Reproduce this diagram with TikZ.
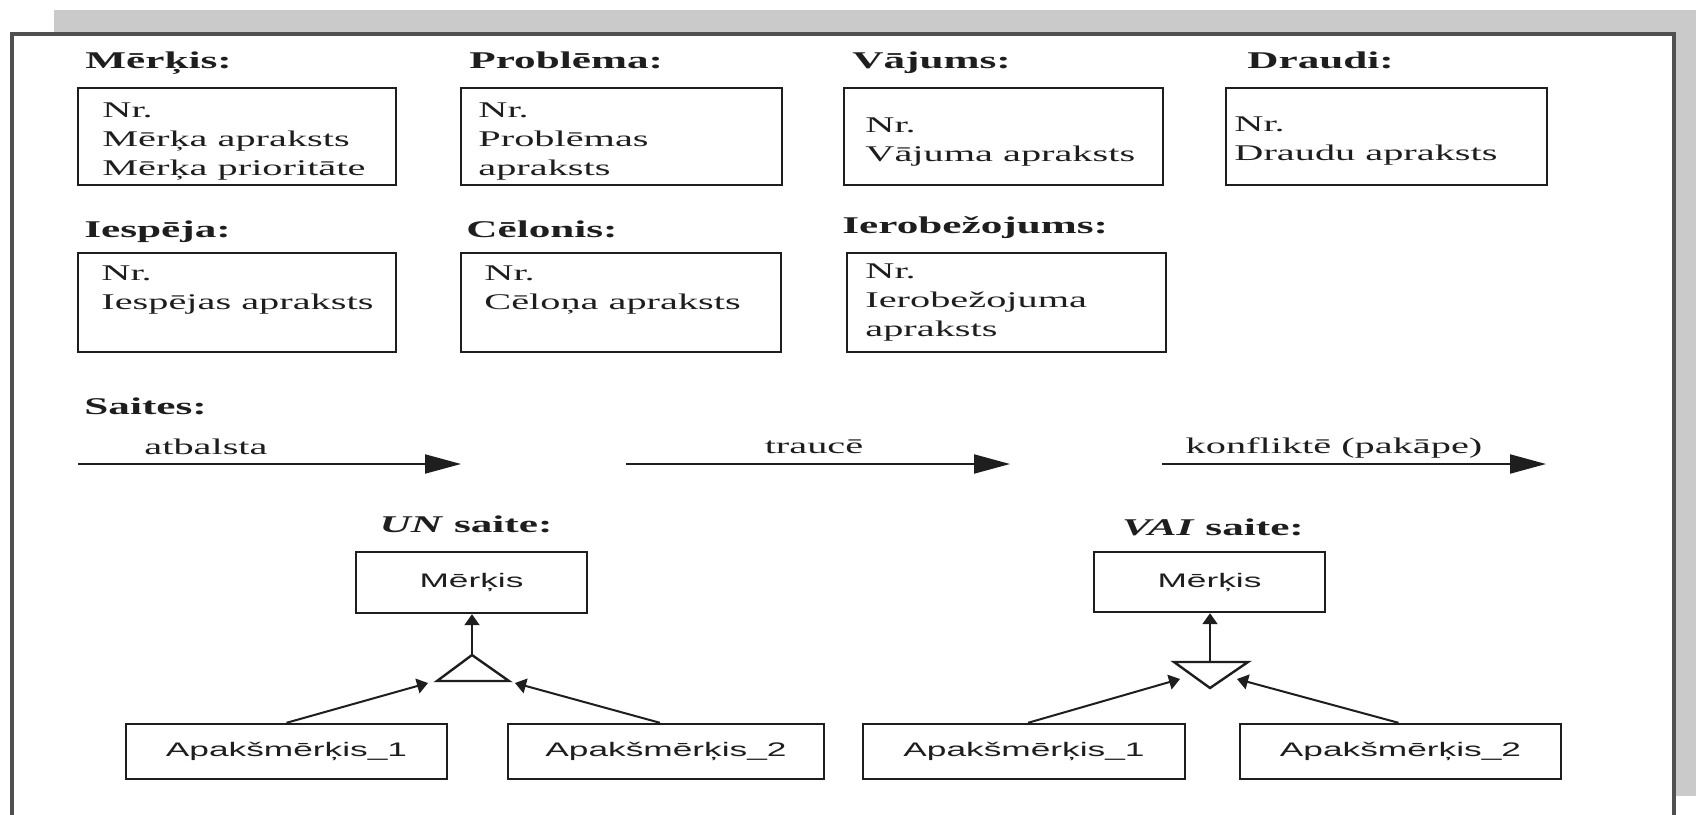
\documentclass[tikz,border=0pt]{standalone}
\usepackage{fontspec}
\setmainfont{Liberation Serif}[FakeStretch=1.8]
\newfontfamily\sansf{Liberation Sans}[FakeStretch=1.8]
\usetikzlibrary{arrows.meta,fit}
\definecolor{shadowgray}{HTML}{CACACA}
\definecolor{framegray}{HTML}{505050}
\definecolor{ink}{HTML}{1E1E1E}
\begin{document}
\begin{tikzpicture}[x=0.5pt,y=-0.5pt,
  box/.style={draw=ink, line width=1.2pt, inner sep=0pt},
  sbox/.style={draw=ink, line width=1.2pt, inner sep=0pt},
  stxt/.style={font=\sansf\fontsize{9.8}{12}\selectfont, text=ink, inner sep=0pt},
  head/.style={font=\fontsize{12}{14}\selectfont\bfseries, anchor=base west, inner sep=0pt, text=ink},
  ctitle/.style={font=\fontsize{12}{14}\selectfont\bfseries, anchor=base, inner sep=0pt, text=ink},
  body/.style={font=\fontsize{11.2}{14.5}\selectfont, anchor=north west, inner sep=0pt, align=left, text=ink},
  lbl/.style={font=\fontsize{11.2}{14.5}\selectfont, anchor=base, inner sep=0pt, text=ink},
  bigarr/.style={draw=ink, line width=1pt, -{Triangle[length=18pt,width=9.5pt]}},
  smallarr/.style={draw=ink, line width=1pt, -{Triangle[length=5.5pt,width=7.5pt]}},
  tri/.style={draw=ink, line width=1.2pt, line join=miter}
]
\useasboundingbox (0,0) rectangle (1696,814);
% frame with shadow
\fill[shadowgray] (54,10) rectangle (1696,796);
\draw[framegray, line width=2pt, fill=white] (12,34) rectangle (1674,850);

% headings
\node[head] (hMerkis) at (85,68) {Mērķis:};
\node[head] (hProblema) at (469,68) {Problēma:};
\node[head] (hVajums) at (852,68) {Vājums:};
\node[head] (hDraudi) at (1247,68) {Draudi:};
\node[head] (hIespeja) at (84,237) {Iespēja:};
\node[head] (hCelonis) at (466,237) {Cēlonis:};
\node[head] (hIerob) at (842,233) {Ierobežojums:};
\node[head] (hSaites) at (84,414) {Saites:};

% boxes
\node[box, fit={(78,88) (396,185)}] (bMerkis) {};
\node[box, fit={(461,88) (782,185)}] (bProblema) {};
\node[box, fit={(844,88) (1163,185)}] (bVajums) {};
\node[box, fit={(1226,88) (1547,185)}] (bDraudi) {};
\node[box, fit={(78,253) (396,352)}] (bIespeja) {};
\node[box, fit={(461,253) (781,352)}] (bCelonis) {};
\node[box, fit={(847,253) (1166,352)}] (bIerob) {};

% box texts
\node[body] (tMerkis) at (102,102) {Nr.\\Mērķa apraksts\\Mērķa prioritāte};
\node[body] (tProblema) at (478,102) {Nr.\\Problēmas\\apraksts};
\node[body] (tVajums) at (865,117) {Nr.\\Vājuma apraksts};
\node[body] (tDraudi) at (1234,116) {Nr.\\Draudu apraksts};
\node[body] (tIespeja) at (101,265) {Nr.\\Iespējas apraksts};
\node[body] (tCelonis) at (484,265) {Nr.\\Cēloņa apraksts};
\node[body] (tIerob) at (865,263) {Nr.\\Ierobežojuma\\apraksts};

% link types
\coordinate (a1s) at (78,464);
\coordinate (a1e) at (461,464);
\coordinate (a2s) at (626,464);
\coordinate (a2e) at (1010,464);
\coordinate (a3s) at (1162,464);
\coordinate (a3e) at (1546,464);
\draw[bigarr] (a1s) -- (a1e);
\draw[bigarr] (a2s) -- (a2e);
\draw[bigarr] (a3s) -- (a3e);
\node[lbl] (l1) at (206,454) {atbalsta};
\node[lbl] (l2) at (814,453) {traucē};
\node[lbl] (l3) at (1334,453) {konfliktē (pakāpe)};

% UN link
\node[ctitle] (unTitle) at (466,532) {\textit{UN} saite:};
\node[sbox, fit={(356,552) (587,613)}] (unGoal) {};
\node[stxt] (unGoalT) at (unGoal.center) {Mērķis};
\node[sbox, fit={(126,724) (447,779)}] (unSub1) {};
\node[stxt] (unSub1T) at (unSub1.center) {Apakšmērķis\_1};
\node[sbox, fit={(508,724) (824,779)}] (unSub2) {};
\node[stxt] (unSub2T) at (unSub2.center) {Apakšmērķis\_2};
\coordinate (unApex) at (472,655);
\coordinate (unBL) at (437,681);
\coordinate (unBR) at (509,681);
\draw[tri] (unApex) -- (unBL) -- (unBR) -- cycle;
\coordinate (unInL) at (428,683);
\coordinate (unInR) at (515,683);
\draw[smallarr] (unApex) -- (unApex |- unGoal.south);
\draw[smallarr] (unSub1.north) -- (unInL);
\draw[smallarr] ([xshift=-3pt]unSub2.north) -- (unInR);

% VAI link
\node[ctitle] (vaiTitle) at (1213,535) {\textit{VAI} saite:};
\node[sbox, fit={(1094,552) (1325,612)}] (vaiGoal) {};
\node[stxt] (vaiGoalT) at (vaiGoal.center) {Mērķis};
\node[sbox, fit={(863,724) (1185,779)}] (vaiSub1) {};
\node[stxt] (vaiSub1T) at (vaiSub1.center) {Apakšmērķis\_1};
\node[sbox, fit={(1240,724) (1561,779)}] (vaiSub2) {};
\node[stxt] (vaiSub2T) at (vaiSub2.center) {Apakšmērķis\_2};
\coordinate (vaiTL) at (1174,662);
\coordinate (vaiTR) at (1248,662);
\coordinate (vaiApex) at (1210,688);
\coordinate (vaiTop) at (1210,662);
\draw[tri] (vaiTL) -- (vaiTR) -- (vaiApex) -- cycle;
\coordinate (vaiInL) at (1180,679);
\coordinate (vaiInR) at (1237,679);
\draw[smallarr] (vaiTop) -- (vaiTop |- vaiGoal.south);
\draw[smallarr] ([xshift=2pt]vaiSub1.north) -- (vaiInL);
\draw[smallarr] ([xshift=-1pt]vaiSub2.north) -- (vaiInR);
\end{tikzpicture}
\end{document}
